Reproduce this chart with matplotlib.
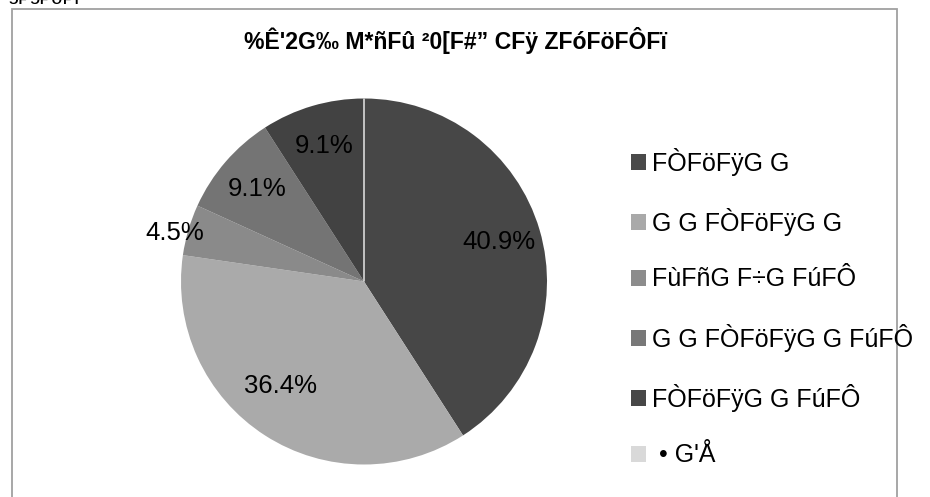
import matplotlib
matplotlib.use("Agg")
import matplotlib.pyplot as plt
from matplotlib.patches import Rectangle
import numpy as np

plt.rcParams['font.family'] = ['Liberation Sans', 'DejaVu Sans']

title = "%Ê'2G‰ M*ñFû ²0[F#” CFÿ ZFóFöFÔFï"
categories = ["FÒFöFÿG G", "G G FÒFöFÿG G", "FùFñG F÷G FúFÔ",
              "G G FÒFöFÿG G FúFÔ", "FÒFöFÿG G FúFÔ", " • G'Å"]
values = [40.9, 36.4, 4.5, 9.1, 9.1, 0.0]
colors = ["#474747", "#aaaaaa", "#8a8a8a", "#747474", "#424242", "#d9d9d9"]
legend_colors = ["#4a4a4a", "#a9a9a9", "#8c8c8c", "#787878", "#474747", "#d9d9d9"]
corner_text = "ƆF ƆF ƠF I"

W, H = 930, 497
fig = plt.figure(figsize=(W / 100, H / 100), dpi=100)

# chart border
fig.patches.append(Rectangle((12 / W, -0.05), (897 - 12) / W, 1.05 - 9 / H,
                             transform=fig.transFigure, fill=False,
                             edgecolor="#a0a0a0", linewidth=1.3, zorder=0))

cx, cy, r = 364, 497 - 281.5, 183
ax = fig.add_axes([(cx - r) / W, (cy - r) / H, 2 * r / W, 2 * r / H])

def fmt(p):
    return "" if p < 0.5 else f"{p:.1f}%"

wedges, texts, autotexts = ax.pie(values, colors=colors, startangle=90,
                                  counterclock=False, autopct=fmt,
                                  pctdistance=0.77, radius=1.0,
                                  wedgeprops=dict(linewidth=0),
                                  textprops=dict(fontsize=18.5, color="black"))
wedges[-1].set_edgecolor("#d9d9d9")
wedges[-1].set_linewidth(1.2)

# small slice label placed just outside the pie
w = wedges[2]
mid = np.deg2rad((w.theta1 + w.theta2) / 2 + 2)
autotexts[2].set_position((1.07 * np.cos(mid), 1.07 * np.sin(mid)))

# the large light slice label sits a little further round
w = wedges[1]
mid = np.deg2rad((w.theta1 + w.theta2) / 2 - 6)
autotexts[1].set_position((0.73 * np.cos(mid), 0.73 * np.sin(mid)))

ax.set_xlim(-1, 1)
ax.set_ylim(-1, 1)
ax.set_aspect("equal")
ax.axis("off")

fig.text(455 / W, 1 - 40 / H, title, ha="center", va="center",
         fontsize=16.6, fontweight="bold")

fig.text(9 / W, 1 - 4 / H, corner_text, ha="left", va="baseline",
         fontsize=9.5, fontweight="bold")

handles = [Rectangle((0, 0), 1, 1, facecolor=c, edgecolor="none") for c in legend_colors]
leg = fig.legend(handles, categories, loc="upper left",
                 bbox_to_anchor=(618 / W, 1 - 135 / H), frameon=False,
                 fontsize=18, handlelength=0.6, handleheight=0.6,
                 handletextpad=0.25, labelspacing=1.28, borderpad=0)

fig.savefig("out.png", dpi=100)
